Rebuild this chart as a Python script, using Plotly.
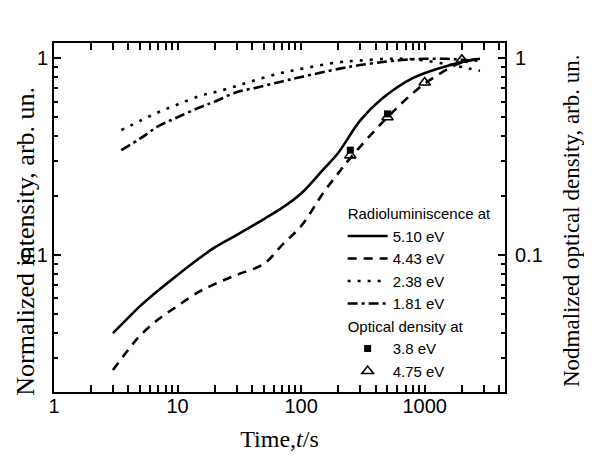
import plotly.graph_objects as go

# Radioluminescence curves (time in s, normalized intensity)
t_510 = [3, 4, 5, 7, 10, 15, 20, 30, 50, 70, 100, 150, 200, 300, 450, 800, 1600, 2500, 2800]
rl_510 = [0.040, 0.048, 0.055, 0.066, 0.079, 0.096, 0.109, 0.126, 0.152, 0.173, 0.205, 0.27, 0.33, 0.48, 0.62, 0.79, 0.92, 0.98, 0.99]

t_443 = [3, 4, 5, 7, 10, 15, 20, 30, 50, 70, 100, 150, 200, 250, 500, 1000, 2000, 2800]
rl_443 = [0.026, 0.033, 0.039, 0.047, 0.055, 0.065, 0.071, 0.079, 0.090, 0.112, 0.140, 0.205, 0.26, 0.31, 0.50, 0.74, 0.95, 0.99]

t_238 = [3.5, 5, 7, 10, 15, 20, 30, 45, 70, 100, 200, 300, 500, 700, 1000, 1500, 2000, 2800]
rl_238 = [0.43, 0.48, 0.53, 0.58, 0.64, 0.67, 0.72, 0.78, 0.84, 0.88, 0.95, 0.97, 0.99, 0.99, 0.97, 0.93, 0.90, 0.86]

t_181 = [3.5, 5, 7, 10, 15, 20, 30, 45, 70, 100, 200, 300, 500, 700, 1000, 1500, 2000, 2800]
rl_181 = [0.34, 0.39, 0.45, 0.50, 0.56, 0.60, 0.67, 0.71, 0.76, 0.80, 0.88, 0.92, 0.96, 0.98, 0.99, 0.99, 0.98, 0.965]

# Optical density points
t_od38 = [250, 500]
od_38 = [0.34, 0.52]
t_od475 = [250, 500, 1000, 2000]
od_475 = [0.32, 0.50, 0.75, 0.98]

x_ticks = [1, 10, 100, 1000]
x_ticktext = ["1", "10", "100", "1000"]
y_ticks = [0.1, 1]
y_ticktext = ["0.1", "1"]

x_minor = [m * d for d in (1, 10, 100, 1000) for m in range(2, 10)]
y_minor = [m * d for d in (0.01, 0.1, 1) for m in range(2, 10)]

fig = go.Figure()
LW = 2.6
fig.add_trace(go.Scatter(x=t_510, y=rl_510, mode="lines", name="5.10 eV",
                         line=dict(color="black", width=LW, shape="spline"),
                         legendgroup="rl", legendgrouptitle_text="Radioluminiscence at"))
fig.add_trace(go.Scatter(x=t_443, y=rl_443, mode="lines", name="4.43 eV",
                         line=dict(color="black", width=LW, dash="9px,7px", shape="spline"),
                         legendgroup="rl"))
fig.add_trace(go.Scatter(x=t_238, y=rl_238, mode="lines", name="2.38 eV",
                         line=dict(color="black", width=LW, dash="3px,7px", shape="spline"),
                         legendgroup="rl"))
fig.add_trace(go.Scatter(x=t_181, y=rl_181, mode="lines", name="1.81 eV",
                         line=dict(color="black", width=LW, dash="10px,4px,3px,4px", shape="spline"),
                         legendgroup="rl"))
fig.add_trace(go.Scatter(x=t_od38, y=od_38, mode="markers", name="3.8 eV", yaxis="y2",
                         marker=dict(symbol="square", size=7, color="black"),
                         legendgroup="od", legendgrouptitle_text="Optical density at"))
fig.add_trace(go.Scatter(x=t_od475, y=od_475, mode="markers", name="4.75 eV", yaxis="y2",
                         marker=dict(symbol="triangle-up-open", size=10, color="black",
                                     line=dict(width=1.6, color="black")),
                         legendgroup="od"))

axis_common = dict(showline=True, linecolor="black", linewidth=2, showgrid=False,
                   ticks="inside", ticklen=7, tickwidth=1.5, tickcolor="black",
                   zeroline=False)

fig.update_layout(
    width=584, height=452,
    margin=dict(l=44, r=87, t=35, b=66),
    plot_bgcolor="white", paper_bgcolor="white",
    font=dict(family="Liberation Sans, Arial, sans-serif", size=20, color="black"),
    xaxis=dict(type="log", range=[0, 3.65], tickvals=x_ticks, ticktext=x_ticktext,
               mirror="allticks", ticklabelstandoff=-5,
               minor=dict(ticks="inside", ticklen=4, tickvals=x_minor, tickcolor="black"),
               title=dict(text="Time,<i>t</i>/s",
                          font=dict(family="Liberation Serif, Times New Roman, serif", size=24),
                          standoff=14),
               **axis_common),
    yaxis=dict(type="log", range=[-1.697, 0.076], tickvals=y_ticks, ticktext=y_ticktext,
               mirror=True,
               minor=dict(ticks="inside", ticklen=4, tickvals=y_minor, tickcolor="black"),
               **axis_common),
    yaxis2=dict(type="log", range=[-1.697, 0.076], tickvals=y_ticks, ticktext=y_ticktext,
                overlaying="y", side="right", ticklabelstandoff=4,
                minor=dict(ticks="inside", ticklen=4, tickvals=y_minor, tickcolor="black"),
                **axis_common),
    legend=dict(x=0.64, y=0.558, xanchor="left", yanchor="top",
                traceorder="grouped", tracegroupgap=0,
                bgcolor="rgba(0,0,0,0)", borderwidth=0,
                font=dict(family="Liberation Sans, Arial, sans-serif", size=15),
                grouptitlefont=dict(family="Liberation Sans, Arial, sans-serif", size=15),
                itemwidth=40),
    showlegend=True,
    annotations=[
        dict(text="Normalized intensity, arb. un.", xref="paper", yref="paper",
             x=-0.064, y=0.431, xanchor="center", yanchor="middle",
             textangle=-90, showarrow=False,
             font=dict(family="Liberation Serif, Times New Roman, serif", size=26)),
        dict(text="Nodmalized optical density, arb. un.", xref="paper", yref="paper",
             x=1.148, y=0.492, xanchor="center", yanchor="middle",
             textangle=-90, showarrow=False,
             font=dict(family="Liberation Serif, Times New Roman, serif", size=23)),
    ],
)

fig.write_html("out.html")
